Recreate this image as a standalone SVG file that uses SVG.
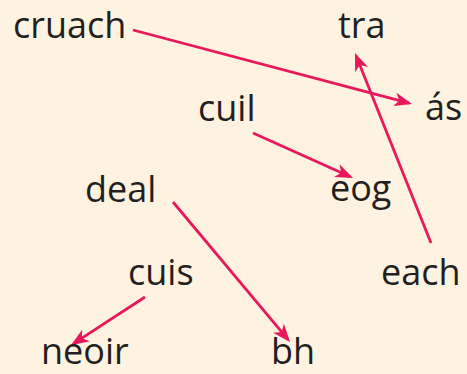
<svg xmlns="http://www.w3.org/2000/svg" width="467" height="374" viewBox="0 0 467 374">
<style>
.w{font-family:"Open Sans","Noto Sans",sans-serif;font-size:36px;fill:#231f20}
.c{stroke:#e8185b;stroke-width:2.8;fill:none;marker-end:url(#ah)}
</style>
<defs>
<marker id="ah" markerUnits="userSpaceOnUse" viewBox="0 0 18 14" refX="15" refY="7" markerWidth="18" markerHeight="14" orient="auto">
<path d="M0,0 L18,7 L0,14 L5,7 z" fill="#e8185b"/>
</marker>
</defs>
<rect width="467" height="374" fill="#fef3e1"/>
<g id="connectors">
<line class="c" x1="133" y1="30" x2="409.1" y2="103.2"/>
<line class="c" x1="431" y1="243" x2="356.1" y2="55.8"/>
<line class="c" x1="253" y1="133" x2="350.3" y2="176.8"/>
<line class="c" x1="173" y1="202" x2="288.1" y2="339.7"/>
<line class="c" x1="145" y1="297" x2="73.5" y2="343.6"/>
</g>
<g id="cruach"><text class="w" x="13" y="38">cruach</text></g>
<g id="tra"><text class="w" x="338" y="38">tra</text></g>
<g id="as"><text class="w" x="425" y="120">ás</text></g>
<g id="cuil"><text class="w" x="198" y="121">cuil</text></g>
<g id="eog"><text class="w" x="330" y="201">eog</text></g>
<g id="deal"><text class="w" x="85" y="202">deal</text></g>
<g id="each"><text class="w" x="381" y="285">each</text></g>
<g id="cuis"><text class="w" x="128" y="285">cuis</text></g>
<g id="neoir"><text class="w" x="41" y="364">neoir</text></g>
<g id="bh"><text class="w" x="271" y="364">bh</text></g>
</svg>
